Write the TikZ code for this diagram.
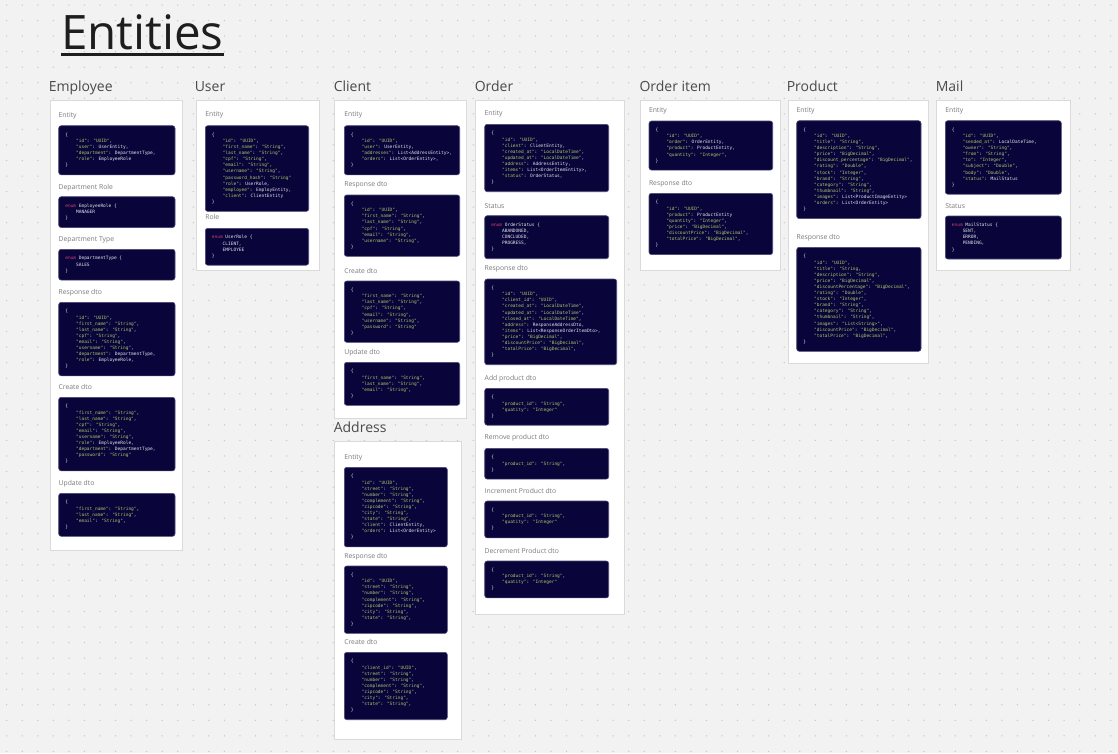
\documentclass[tikz,border=0pt]{standalone}
\usepackage{fontspec}
\setmainfont{Open Sans}
\newfontfamily\codefont{DejaVu Sans Mono}

\definecolor{canvas}{HTML}{F2F2F2}
\definecolor{griddot}{HTML}{C8C8C8}
\definecolor{cardline}{HTML}{DADADA}
\definecolor{codebg}{HTML}{09053A}
\definecolor{codeedge}{HTML}{4B4878}
\definecolor{codetext}{HTML}{E4E4EC}
\definecolor{codestr}{HTML}{A9C76A}
\definecolor{codekw}{HTML}{D63A78}
\definecolor{labelgray}{HTML}{7A7A7A}
\definecolor{headgray}{HTML}{4A4A4A}
\definecolor{titleblack}{HTML}{1E1E1E}

% code helpers: quoted string, indentation, enum keyword
\newcommand\qs[1]{\textcolor{codestr}{"#1"}}
\newcommand\tabin{\phantom{0000}}
\newcommand\enumkw{\textcolor{codekw}{enum}}

\tikzset{
  card/.style={draw=cardline, fill=white, line width=0.8pt, inner sep=0pt, outer sep=0pt, anchor=north west},
  codebox/.style={draw=codeedge, fill=codebg, rounded corners=2.5pt, line width=0.6pt, inner sep=0pt, outer sep=0pt},
  codeline/.style={anchor=base west, inner sep=0pt, outer sep=0pt, text=codetext,
    font=\codefont\fontsize{4.5}{5.4}\selectfont},
  blocklabel/.style={anchor=base west, inner sep=0pt, outer sep=0pt, text=labelgray,
    font=\fontsize{6.8}{8}\selectfont},
  colhead/.style={anchor=base west, inner sep=0pt, outer sep=0pt, text=headgray,
    font=\fontsize{14}{16}\selectfont},
}

% #1 name, #2 left, #3 top, #4 width, #5 list of code lines
\newcommand\codeblock[5]{%
  \foreach \codeln [count=\ci] in {#5} {\xdef\nlines{\ci}}%
  \node[codebox, minimum width=#4, minimum height={\nlines*6.1+12.5}, anchor=north west] (#1) at (#2,#3) {};
  \foreach \codeln [count=\ci] in {#5} {%
    \node[codeline] (#1-\ci) at ({#2+6.6},{#3+10.6+(\ci-1)*6.1}) {\codeln};
  }%
}

\begin{document}
\begin{tikzpicture}[x=1pt,y=-1pt]
\useasboundingbox (0,0) rectangle (1118,753);
\fill[canvas] (0,0) rectangle (1118,753);
\foreach \gx in {0,...,71}
  \foreach \gy in {0,...,48}
    \fill[griddot] ({6.7+\gx*15.55},{5+\gy*15.55}) circle (0.75);

% title
\node[anchor=base west, inner sep=0pt, font=\fontsize{47.5}{52}\selectfont, text=titleblack] (title) at (61,49.5) {Entities};
\draw[titleblack, line width=2.8pt] ([yshift=-4.8pt]title.base west) -- ([yshift=-4.8pt]title.base east);

% ---------------- Employee ----------------
\node[colhead] (h-emp) at (48.8,91) {Employee};
\node[card, minimum width=132.7, minimum height=450] (card-emp) at (50,100) {};
\node[blocklabel] (emp-l1) at (58.7,117.4) {Entity};
\codeblock{emp-c1}{58.7}{125.7}{116.3}{{\{},{\tabin\qs{id}: \qs{UUID},},{\tabin\qs{user}: UserEntity,},{\tabin\qs{department}: DepartmentType,},{\tabin\qs{role}: EmployeeRole},{\}}}
\node[blocklabel] (emp-l2) at (58.7,189.1) {Department Role};
\codeblock{emp-c2}{58.7}{196.7}{116.3}{{\enumkw{} EmployeeRole \{},{\tabin MANAGER},{\}}}
\node[blocklabel] (emp-l3) at (58.7,241.4) {Department Type};
\codeblock{emp-c3}{58.7}{249.3}{116.3}{{\enumkw{} DepartmentType \{},{\tabin SALES},{\}}}
\node[blocklabel] (emp-l4) at (58.7,294.1) {Response dto};
\codeblock{emp-c4}{58.7}{302.3}{116.3}{{\{},{\tabin\qs{id}: \qs{UUID},},{\tabin\qs{first\_name}: \qs{String},},{\tabin\qs{last\_name}: \qs{String},},{\tabin\qs{cpf}: \qs{String},},{\tabin\qs{email}: \qs{String},},{\tabin\qs{username}: \qs{String},},{\tabin\qs{department}: DepartmentType,},{\tabin\qs{role}: EmployeeRole,},{\}}}
\node[blocklabel] (emp-l5) at (58.7,389.1) {Create dto};
\codeblock{emp-c5}{58.7}{397.3}{116.3}{{\{},{\tabin\qs{first\_name}: \qs{String},},{\tabin\qs{last\_name}: \qs{String},},{\tabin\qs{cpf}: \qs{String},},{\tabin\qs{email}: \qs{String},},{\tabin\qs{username}: \qs{String},},{\tabin\qs{role}: EmployeeRole,},{\tabin\qs{department}: DepartmentType,},{\tabin\qs{password}: \qs{String}},{\}}}
\node[blocklabel] (emp-l6) at (58.7,485.1) {Update dto};
\codeblock{emp-c6}{58.7}{493.3}{116.3}{{\{},{\tabin\qs{first\_name}: \qs{String},},{\tabin\qs{last\_name}: \qs{String},},{\tabin\qs{email}: \qs{String},},{\}}}

% ---------------- User ----------------
\node[colhead] (h-user) at (194.8,91) {User};
\node[card, minimum width=123.5, minimum height=170] (card-user) at (196,100) {};
\node[blocklabel] (user-l1) at (205.3,116.7) {Entity};
\codeblock{user-c1}{205.3}{125.7}{103.4}{{\{},{\tabin\qs{id}: \qs{UUID},},{\tabin\qs{first\_name}: \qs{String},},{\tabin\qs{last\_name}: \qs{String},},{\tabin\qs{cpf}: \qs{String},},{\tabin\qs{email}: \qs{String},},{\tabin\qs{username}: \qs{String},},{\tabin\qs{password\_hash}: \qs{String}},{\tabin\qs{role}: UserRole,},{\tabin\qs{employee}: EmployEntity,},{\tabin\qs{client}: ClientEntity},{\}}}
\node[blocklabel] (user-l2) at (205.3,219.9) {Role};
\codeblock{user-c2}{205.3}{228.3}{103.4}{{\enumkw{} UserRole \{},{\tabin CLIENT,},{\tabin EMPLOYEE},{\}}}

% ---------------- Client ----------------
\node[colhead] (h-client) at (333.8,91) {Client};
\node[card, minimum width=131.3, minimum height=318.3] (card-client) at (334.7,100) {};
\node[blocklabel] (cli-l1) at (344.3,116.7) {Entity};
\codeblock{cli-c1}{344.3}{125.7}{115.4}{{\{},{\tabin\qs{id}: \qs{UUID},},{\tabin\qs{user}: UserEntity,},{\tabin\qs{addresses}: List<AddressEntity>,},{\tabin\qs{orders}: List<OrderEntity>,},{\}}}
\node[blocklabel] (cli-l2) at (344.3,186.7) {Response dto};
\codeblock{cli-c2}{344.3}{195}{115.4}{{\{},{\tabin\qs{id}: \qs{UUID},},{\tabin\qs{first\_name}: \qs{String},},{\tabin\qs{last\_name}: \qs{String},},{\tabin\qs{cpf}: \qs{String},},{\tabin\qs{email}: \qs{String},},{\tabin\qs{username}: \qs{String},},{\}}}
\node[blocklabel] (cli-l3) at (344.3,273.1) {Create dto};
\codeblock{cli-c3}{344.3}{281}{115.4}{{\{},{\tabin\qs{first\_name}: \qs{String},},{\tabin\qs{last\_name}: \qs{String},},{\tabin\qs{cpf}: \qs{String},},{\tabin\qs{email}: \qs{String},},{\tabin\qs{username}: \qs{String},},{\tabin\qs{password}: \qs{String}},{\}}}
\node[blocklabel] (cli-l4) at (344.3,354.1) {Update dto};
\codeblock{cli-c4}{344.3}{362.3}{115.4}{{\{},{\tabin\qs{first\_name}: \qs{String},},{\tabin\qs{last\_name}: \qs{String},},{\tabin\qs{email}: \qs{String},},{\}}}

% ---------------- Address ----------------
\node[colhead] (h-addr) at (333.8,432.5) {Address};
\node[card, minimum width=126.6, minimum height=297.3] (card-addr) at (334.7,441.7) {};
\node[blocklabel] (addr-l1) at (344.3,459.1) {Entity};
\codeblock{addr-c1}{344.3}{467.3}{103}{{\{},{\tabin\qs{id}: \qs{UUID},},{\tabin\qs{street}: \qs{String},},{\tabin\qs{number}: \qs{String},},{\tabin\qs{complement}: \qs{String},},{\tabin\qs{zipcode}: \qs{String},},{\tabin\qs{city}: \qs{String},},{\tabin\qs{state}: \qs{String},},{\tabin\qs{client}: ClientEntity,},{\tabin\qs{orders}: List<OrderEntity>},{\}}}
\node[blocklabel] (addr-l2) at (344.3,558.1) {Response dto};
\codeblock{addr-c2}{344.3}{566}{103}{{\{},{\tabin\qs{id}: \qs{UUID},},{\tabin\qs{street}: \qs{String},},{\tabin\qs{number}: \qs{String},},{\tabin\qs{complement}: \qs{String},},{\tabin\qs{zipcode}: \qs{String},},{\tabin\qs{city}: \qs{String},},{\tabin\qs{state}: \qs{String},},{\}}}
\node[blocklabel] (addr-l3) at (344.3,644.1) {Create dto};
\codeblock{addr-c3}{344.3}{652.3}{103}{{\{},{\tabin\qs{client\_id}: \qs{UUID},},{\tabin\qs{street}: \qs{String},},{\tabin\qs{number}: \qs{String},},{\tabin\qs{complement}: \qs{String},},{\tabin\qs{zipcode}: \qs{String},},{\tabin\qs{city}: \qs{String},},{\tabin\qs{state}: \qs{String},},{\}}}

% ---------------- Order ----------------
\node[colhead] (h-order) at (474.8,91) {Order};
\node[card, minimum width=148.7, minimum height=514.3] (card-order) at (475.3,100) {};
\node[blocklabel] (ord-l1) at (484.7,115.7) {Entity};
\codeblock{ord-c1}{484.7}{124.3}{124}{{\{},{\tabin\qs{id}: \qs{UUID},},{\tabin\qs{client}: ClientEntity,},{\tabin\qs{created\_at}: \qs{LocalDateTime},},{\tabin\qs{updated\_at}: \qs{LocalDateTime},},{\tabin\qs{address}: AddressEntity,},{\tabin\qs{items}: List<OrderItemEntity>,},{\tabin\qs{status}: OrderStatus,},{\}}}
\node[blocklabel] (ord-l2) at (484.7,208.1) {Status};
\codeblock{ord-c2}{484.7}{215.7}{124}{{\enumkw{} OrderStatus \{},{\tabin ABANDONED,},{\tabin CONCLUDED,},{\tabin PROGRESS,},{\}}}
\node[blocklabel] (ord-l3) at (484.7,270.7) {Response dto};
\codeblock{ord-c3}{484.7}{279}{132}{{\{},{\tabin\qs{id}: \qs{UUID},},{\tabin\qs{client\_id}: \qs{UUID},},{\tabin\qs{created\_at}: \qs{LocalDateTime},},{\tabin\qs{updated\_at}: \qs{LocalDateTime},},{\tabin\qs{closed\_at}: \qs{LocalDateTime},},{\tabin\qs{address}: ResponseAddressDto,},{\tabin\qs{items}: List<ResponseOrderItemDto>,},{\tabin\qs{price}: \qs{BigDecimal},},{\tabin\qs{discountPrice}: \qs{BigDecimal},},{\tabin\qs{totalPrice}: \qs{BigDecimal},},{\}}}
\node[blocklabel] (ord-l4) at (484.7,380.1) {Add product dto};
\codeblock{ord-c4}{484.7}{388.3}{124}{{\{},{\tabin\qs{product\_id}: \qs{String},},{\tabin\qs{quatity}: \qs{Integer}},{\}}}
\node[blocklabel] (ord-l5) at (484.7,439.7) {Remove product dto};
\codeblock{ord-c5}{484.7}{448.3}{124}{{\{},{\tabin\qs{product\_id}: \qs{String},},{\}}}
\node[blocklabel] (ord-l6) at (484.7,493.1) {Increment Product dto};
\codeblock{ord-c6}{484.7}{501}{124}{{\{},{\tabin\qs{product\_id}: \qs{String},},{\tabin\qs{quatity}: \qs{Integer}},{\}}}
\node[blocklabel] (ord-l7) at (484.7,553.1) {Decrement Product dto};
\codeblock{ord-c7}{484.7}{561}{124}{{\{},{\tabin\qs{product\_id}: \qs{String},},{\tabin\qs{quatity}: \qs{Integer}},{\}}}

% ---------------- Order item ----------------
\node[colhead] (h-item) at (639.5,91) {Order item};
\node[card, minimum width=139.5, minimum height=170] (card-item) at (640.5,100) {};
\node[blocklabel] (item-l1) at (649,112.4) {Entity};
\codeblock{item-c1}{649}{121}{123.7}{{\{},{\tabin\qs{id}: \qs{UUID},},{\tabin\qs{order}: OrderEntity,},{\tabin\qs{product}: ProductEntity,},{\tabin\qs{quantity}: \qs{Integer},},{\}}}
\node[blocklabel] (item-l2) at (649,185.1) {Response dto};
\codeblock{item-c2}{649}{193.3}{123.7}{{\{},{\tabin\qs{id}: \qs{UUID},},{\tabin\qs{product}: ProductEntity},{\tabin\qs{quantity}: \qs{Integer},},{\tabin\qs{price}: \qs{BigDecimal},},{\tabin\qs{discountPrice}: \qs{BigDecimal},},{\tabin\qs{totalPrice}: \qs{BigDecimal},},{\}}}

% ---------------- Product ----------------
\node[colhead] (h-prod) at (786.8,91) {Product};
\node[card, minimum width=140.3, minimum height=263.5] (card-prod) at (788,100) {};
\node[blocklabel] (prod-l1) at (796.7,112.4) {Entity};
\codeblock{prod-c1}{796.7}{120.7}{124.3}{{\{},{\tabin\qs{id}: \qs{UUID},},{\tabin\qs{title}: \qs{String},},{\tabin\qs{description}: \qs{String},},{\tabin\qs{price}: \qs{BigDecimal},},{\tabin\qs{discount\_percentage}: \qs{BigDecimal},},{\tabin\qs{rating}: \qs{Double},},{\tabin\qs{stock}: \qs{Integer},},{\tabin\qs{brand}: \qs{String},},{\tabin\qs{category}: \qs{String},},{\tabin\qs{thumbnail}: \qs{String},},{\tabin\qs{images}: List<ProductImageEntity>},{\tabin\qs{orders}: List<OrderEntity>},{\}}}
\node[blocklabel] (prod-l2) at (796.7,239.1) {Response dto};
\codeblock{prod-c2}{796.7}{247.3}{124.3}{{\{},{\tabin\qs{id}: \qs{UUID},},{\tabin\qs{title}: \textcolor{codestr}{"String},},{\tabin\qs{description}: \qs{String},},{\tabin\qs{price}: \qs{BigDecimal},},{\tabin\qs{discountPercentage}: \qs{BigDecimal},},{\tabin\qs{rating}: \qs{Double},},{\tabin\qs{stock}: \qs{Integer},},{\tabin\qs{brand}: \qs{String},},{\tabin\qs{category}: \qs{String},},{\tabin\qs{thumbnail}: \qs{String},},{\tabin\qs{images}: \qs{List<String>},},{\tabin\qs{discountPrice}: \qs{BigDecimal},},{\tabin\qs{totalPrice}: \qs{BigDecimal},},{\}}}

% ---------------- Mail ----------------
\node[colhead] (h-mail) at (935.8,91) {Mail};
\node[card, minimum width=133.5, minimum height=170] (card-mail) at (936.5,100) {};
\node[blocklabel] (mail-l1) at (945.3,112.4) {Entity};
\codeblock{mail-c1}{945.3}{120.7}{116}{{\{},{\tabin\qs{id}: \qs{UUID},},{\tabin\qs{sended\_at}: LocalDateTime,},{\tabin\qs{owner}: \qs{String},},{\tabin\qs{from}: \qs{String},},{\tabin\qs{to}: \qs{Integer},},{\tabin\qs{subject}: \qs{Double},},{\tabin\qs{body}: \qs{Double},},{\tabin\qs{status}: MailStatus},{\}}}
\node[blocklabel] (mail-l2) at (945.3,208.1) {Status};
\codeblock{mail-c2}{945.3}{216}{116}{{\enumkw{} MailStatus \{},{\tabin SENT,},{\tabin ERROR,},{\tabin PENDING,},{\}}}
\end{tikzpicture}
\end{document}
